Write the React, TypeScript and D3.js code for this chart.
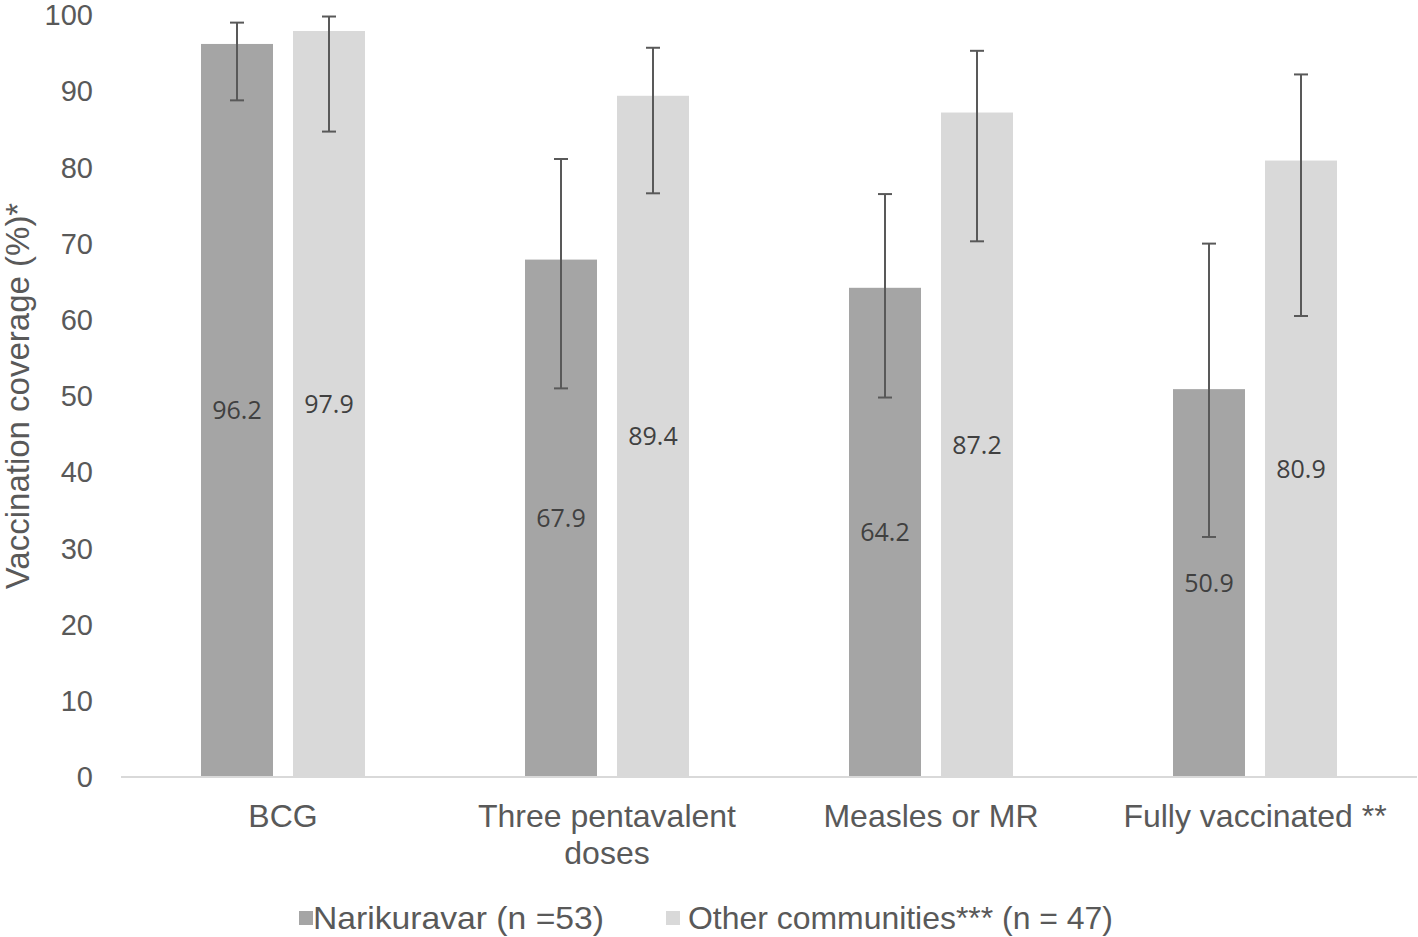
import React from "react";
import * as d3 from "d3";

const categories = ["BCG", "Three pentavalent doses", "Measles or MR", "Fully vaccinated **"];
const categoryLines = [["BCG"], ["Three pentavalent", "doses"], ["Measles or MR"], ["Fully vaccinated **"]];
const seriesNames = ["Narikuravar (n =53)", "Other communities*** (n = 47)"];
const narikuravar = [96.2, 67.9, 64.2, 50.9];
const others = [97.9, 89.4, 87.2, 80.9];
const narikuravarLow = [88.8, 51.0, 49.8, 31.5];
const narikuravarHigh = [99.0, 81.1, 76.5, 70.0];
const othersLow = [84.7, 76.6, 70.3, 60.5];
const othersHigh = [99.8, 95.7, 95.3, 92.2];
const yTicks = [0, 10, 20, 30, 40, 50, 60, 70, 80, 90, 100];
const colors = ["#a5a5a5", "#d9d9d9"];

export default function App() {
  const W = 1418, H = 937;
  const x = d3.scaleBand<string>().domain(categories).range([121, 1417]);
  const y = d3.scaleLinear().domain([0, 100]).range([777, 15]);
  const barW = 72, gap = 20;
  const series = [
    { vals: narikuravar, lo: narikuravarLow, hi: narikuravarHigh },
    { vals: others, lo: othersLow, hi: othersHigh },
  ];
  const tickFont = "Liberation Sans, Arial, sans-serif";
  const labelFont = "'Open Sans', 'Noto Sans', sans-serif";
  return (
    <svg width={W} height={H} style={{ position: "absolute", left: 0, top: 0, background: "#fff" }}>
      {yTicks.map((t) => (
        <text key={t} x={93} y={y(t)} dy="0.35em" textAnchor="end" fontFamily={tickFont} fontSize={29} fill="#595959">
          {t}
        </text>
      ))}
      <text transform={`translate(17,${(y(0) + y(100)) / 2}) rotate(-90)`} textAnchor="middle" dy="0.35em" fontFamily={tickFont} fontSize={33} fill="#595959">
        Vaccination coverage (%)*
      </text>
      {categories.map((c, i) => {
        const cx = (x(c) as number) + x.bandwidth() / 2;
        return (
          <g key={c}>
            {series.map((s, j) => {
              const bx = j === 0 ? cx - gap / 2 - barW : cx + gap / 2;
              const mx = bx + barW / 2;
              const v = s.vals[i];
              return (
                <g key={j}>
                  <rect x={bx} y={y(v)} width={barW} height={y(0) - y(v)} fill={colors[j]} />
                  <text x={mx} y={(y(v) + y(0)) / 2} dy="0.35em" textAnchor="middle" fontFamily={labelFont} fontSize={25} fill="#404040">
                    {v.toFixed(1)}
                  </text>
                  <g stroke="#595959" strokeWidth={2}>
                    <line x1={mx} x2={mx} y1={y(s.hi[i])} y2={y(s.lo[i])} />
                    <line x1={mx - 7} x2={mx + 7} y1={y(s.hi[i])} y2={y(s.hi[i])} />
                    <line x1={mx - 7} x2={mx + 7} y1={y(s.lo[i])} y2={y(s.lo[i])} />
                  </g>
                </g>
              );
            })}
            {categoryLines[i].map((ln, k) => (
              <text key={k} x={cx} y={816 + k * 37} dy="0.35em" textAnchor="middle" fontFamily={tickFont} fontSize={32} fill="#595959">
                {ln}
              </text>
            ))}
          </g>
        );
      })}
      <line x1={121} x2={1417} y1={y(0)} y2={y(0)} stroke="#d9d9d9" strokeWidth={2} />
      <g fontFamily={tickFont} fontSize={32} fill="#595959">
        <rect x={299} y={911} width={14} height={14} fill={colors[0]} />
        <text x={313} y={918} dy="0.35em" textLength={291} lengthAdjust="spacingAndGlyphs">{seriesNames[0]}</text>
        <rect x={666} y={911} width={14} height={14} fill={colors[1]} />
        <text x={688} y={918} dy="0.35em" textLength={425} lengthAdjust="spacingAndGlyphs">{seriesNames[1]}</text>
      </g>
    </svg>
  );
}
